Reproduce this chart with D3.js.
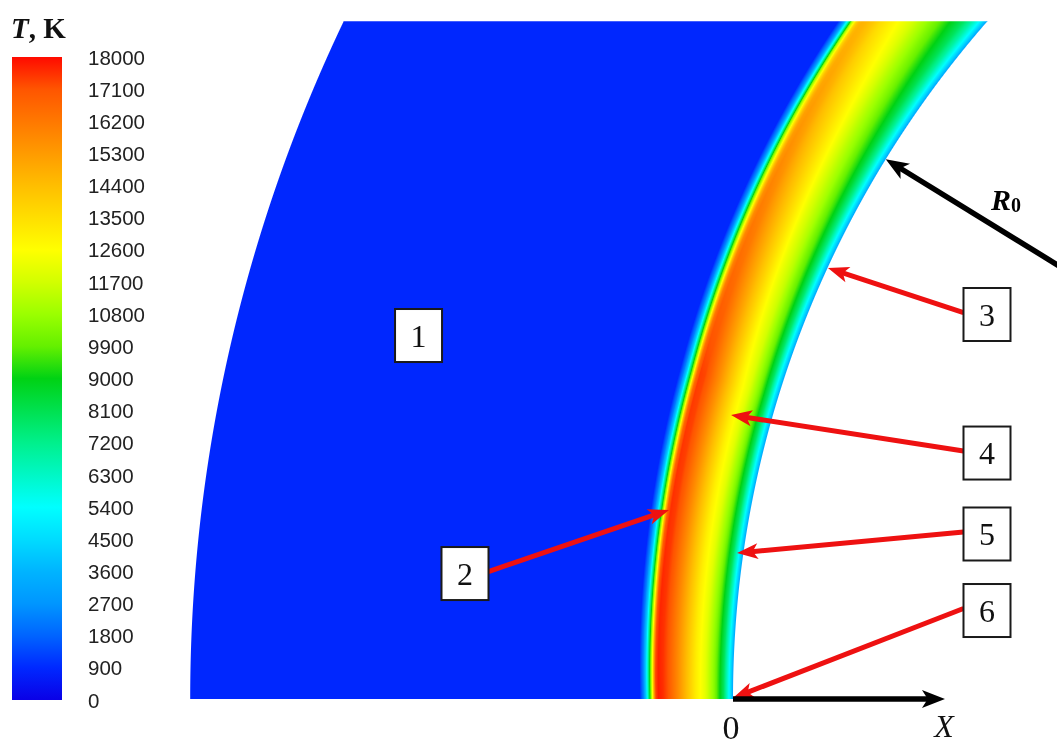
<!DOCTYPE html>
<html><head><meta charset="utf-8">
<script src="https://cdn.jsdelivr.net/npm/d3@7"></script>
<style>
html,body{margin:0;padding:0;background:#fff;overflow:hidden}
#wrap{position:relative;width:1057px;height:742px}
canvas,svg{position:absolute;left:0;top:0}
</style></head><body><div id="wrap"></div>
<script>
// ---------- DATA ----------
const colorbarTicks = [0,900,1800,2700,3600,4500,5400,6300,7200,8100,9000,9900,10800,11700,12600,13500,14400,15300,16200,17100,18000];
const tempStops  = [0, 900, 1800, 2700, 3600, 4500, 5400, 7200, 9000, 9900, 10800, 11700, 12600, 14400, 16200, 17100, 18000];
const tempColors = ["#0a00e6","#0028ff","#0064ff","#0096ff","#00b4ff","#00dcff","#00ffff","#00f08c","#00d214","#64f000","#9bff00","#d2ff00","#ffff00","#ffbe00","#ff7800","#ff5500","#ff0a00"];
const freestreamT = 880;
// temperature profiles across the shock layer, s = (r - R0) / standoff
const profileS   = [0, 0.05, 0.1, 0.15, 0.2, 0.3, 0.4, 0.5, 0.6, 0.7, 0.75, 0.8, 0.83, 0.85, 0.87, 0.9, 0.93, 0.96, 1.0];
const profileT0  = [3200, 5750, 7900, 9240, 10440, 12090, 13120, 14480, 15860, 17150, 17580, 17800, 17300, 14800, 11700, 8000, 4500, 2400, 900];
const profileT17 = [3200, 5600, 7800, 9200, 10400, 12000, 13000, 14300, 15600, 16800, 17300, 17400, 16500, 14500, 11500, 7800, 4400, 2300, 900];
const profileT41 = [3200, 5400, 6800, 7830, 8480, 9670, 10700, 11640, 12330, 13000, 13540, 14000, 14300, 14500, 14350, 12000, 6600, 2900, 900];
const profileAngles = [0, 17, 41];          // degrees from the X axis
const standoff      = [0.0903, 0.099, 0.1165]; // shock standoff, in R0 units
const R0 = 1, outerR = 1.527, topY = 0.658;
// annotation labels (data units, centre of the body at X = 1)
const labelNames = ["1","2","3","4","5","6"];
const labelX  = [-0.3053, -0.2602, 0.2466, 0.2466, 0.2466, 0.2466];
const labelY  = [ 0.3529,  0.1218, 0.3733, 0.2388, 0.1602, 0.0859];
const tipX    = [null, -0.0621, 0.0922, -0.0019, 0.0039, 0.0];
const tipY    = [null,  0.1835, 0.4184,  0.2757, 0.1417, 0.001];
const r0AngleDeg = 31.6;
const axisEndX = 0.2058;

// ---------- SCALES ----------
const W = 1057, H = 742;
const x = d3.scaleLinear().domain([0,1]).range([733,1763]);
const y = d3.scaleLinear().domain([0,1]).range([699,-331]);
const k = x(1) - x(0);
const color = d3.scaleLinear().domain(tempStops).range(tempColors).interpolate(d3.interpolateRgb).clamp(true);
const standoffAt = d3.scaleLinear().domain(profileAngles).range(standoff).clamp(true);
const profiles = [profileT0, profileT17, profileT41].map(T => d3.scaleLinear().domain(profileS).range(T).clamp(true));

function tempAt(s, th){
  if (s >= 1) return freestreamT;
  if (s < 0) s = 0;
  const i = th <= profileAngles[1] ? 0 : 1;
  let w = (th - profileAngles[i]) / (profileAngles[i+1] - profileAngles[i]);
  w = Math.max(0, Math.min(1, w));
  return profiles[i](s) * (1 - w) + profiles[i+1](s) * w;
}

// ---------- FIELD (canvas) ----------
const wrap = d3.select("#wrap");
const canvas = wrap.append("canvas").attr("width", W).attr("height", H).node();
const ctx = canvas.getContext("2d");
const N = 1801, lut = new Uint8Array(N*3);
for (let i = 0; i < N; i++){ const c = d3.rgb(color(i*10)); lut[i*3]=c.r; lut[i*3+1]=c.g; lut[i*3+2]=c.b; }
const img = ctx.createImageData(W, H);
const cl = v => v < 0 ? 0 : (v > 1 ? 1 : v);
const px0 = Math.floor(x(1 - outerR)) - 1, px1 = Math.ceil(x(0)) + 300;
const py0 = Math.floor(y(topY)) - 1, py1 = Math.ceil(y(0)) + 1;
for (let py = Math.max(0,py0); py <= Math.min(H-1,py1); py++){
  for (let px = Math.max(0,px0); px <= Math.min(W-1,px1); px++){
    const X = x.invert(px + 0.5), Y = y.invert(py + 0.5);
    const dx = X - 1, r = Math.sqrt(dx*dx + Y*Y);
    const a = Math.min(cl((r - R0)*k + 0.5), cl((outerR - r)*k + 0.5), cl(Y*k + 0.5), cl((topY - Y)*k + 0.5));
    if (a <= 0) continue;
    const th = Math.atan2(Y, -dx) * 180 / Math.PI;
    const s = (r - R0) / standoffAt(th);
    const T = tempAt(s, th);
    const li = Math.max(0, Math.min(N-1, Math.round(T/10)));
    const o = (py*W + px)*4;
    img.data[o] = lut[li*3]; img.data[o+1] = lut[li*3+1]; img.data[o+2] = lut[li*3+2];
    img.data[o+3] = Math.round(a*255);
  }
}
ctx.putImageData(img, 0, 0);

// ---------- OVERLAY (svg) ----------
const svg = wrap.append("svg").attr("width", W).attr("height", H);
const defs = svg.append("defs");

// colorbar
const cb = d3.scaleLinear().domain([0,18000]).range([700.5, 57.5]);
const grad = defs.append("linearGradient").attr("id","cbg").attr("x1",0).attr("y1",0).attr("x2",0).attr("y2",1);
tempStops.slice().reverse().forEach(t => grad.append("stop").attr("offset", (18000 - t)/18000).attr("stop-color", color(t)));
svg.append("rect").attr("x",12).attr("y",cb(18000)-0.5).attr("width",50).attr("height",cb(0)-cb(18000)).attr("fill","url(#cbg)");
const ax = svg.append("g").attr("transform","translate(62,0)")
  .call(d3.axisRight(cb).tickValues(colorbarTicks).tickSize(0).tickPadding(26).tickFormat(d3.format("d")));
ax.select(".domain").remove();
ax.selectAll("text").attr("font-family","Liberation Sans, Arial, sans-serif").attr("font-size",20.5).attr("fill","#222");

const title = svg.append("text").attr("x",11).attr("y",38).attr("font-family","Liberation Serif, Times New Roman, serif")
  .attr("font-size",29).attr("font-weight","bold").attr("fill","#111");
title.append("tspan").attr("font-style","italic").text("T");
title.append("tspan").text(", K");

function arrow(g, x1, y1, x2, y2, col, w, hl, hw){
  const ang = Math.atan2(y2-y1, x2-x1), c = Math.cos(ang), s = Math.sin(ang);
  const bx = x2 - c*hl, by = y2 - s*hl;
  g.append("line").attr("x1",x1).attr("y1",y1).attr("x2",x2 - c*hl*0.7).attr("y2",y2 - s*hl*0.7)
    .attr("stroke",col).attr("stroke-width",w);
  g.append("path").attr("d", `M${x2},${y2}L${bx - s*hw/2},${by + c*hw/2}L${x2 - c*hl*0.75},${y2 - s*hl*0.75}L${bx + s*hw/2},${by - c*hw/2}Z`).attr("fill",col);
}

const ann = svg.append("g");
const bw = 47, bh = 53;
const red = "#ee1111";
labelNames.forEach((n,i) => {
  const cx = x(labelX[i]), cy = y(labelY[i]);
  if (tipX[i] !== null){
    const sx = i === 1 ? cx + bw/2 : cx - bw/2;
    arrow(ann, sx, cy - 2, x(tipX[i]), y(tipY[i]), red, 5, 21, 16);
  }
});
labelNames.forEach((n,i) => {
  const cx = x(labelX[i]), cy = y(labelY[i]);
  ann.append("rect").attr("x",cx-bw/2).attr("y",cy-bh/2).attr("width",bw).attr("height",bh)
    .attr("fill","#fff").attr("stroke","#1a1a1a").attr("stroke-width",2);
  ann.append("text").attr("x",cx).attr("y",cy+11).attr("text-anchor","middle")
    .attr("font-family","Liberation Serif, Times New Roman, serif").attr("font-size",32).attr("fill","#111").text(n);
});

// R0 arrow along a radius, from the centre of the body to its surface
const ra = r0AngleDeg*Math.PI/180;
const tipR = [1 - R0*Math.cos(ra), R0*Math.sin(ra)];
const startR = [1 - 0.8*R0*Math.cos(ra), 0.8*R0*Math.sin(ra)];
arrow(ann, x(startR[0]), y(startR[1]), x(tipR[0]), y(tipR[1]), "#000", 5.5, 23, 18);
const rl = ann.append("text").attr("x",991).attr("y",210).attr("font-family","Liberation Serif, Times New Roman, serif")
  .attr("font-weight","bold").attr("fill","#000");
rl.append("tspan").attr("font-style","italic").attr("font-size",30).text("R");
rl.append("tspan").attr("font-size",20).attr("dy",2).text("0");

// X axis arrow
arrow(ann, x(0), y(0), x(axisEndX), y(0), "#000", 5.5, 23, 18);
ann.append("text").attr("x",x(0)-2).attr("y",739).attr("text-anchor","middle")
  .attr("font-family","Liberation Serif, Times New Roman, serif").attr("font-size",34).attr("fill","#111").text("0");
ann.append("text").attr("x",x(axisEndX)-1).attr("y",737).attr("text-anchor","middle")
  .attr("font-family","Liberation Serif, Times New Roman, serif").attr("font-style","italic").attr("font-size",32).attr("fill","#111").text("X");
</script></body></html>
